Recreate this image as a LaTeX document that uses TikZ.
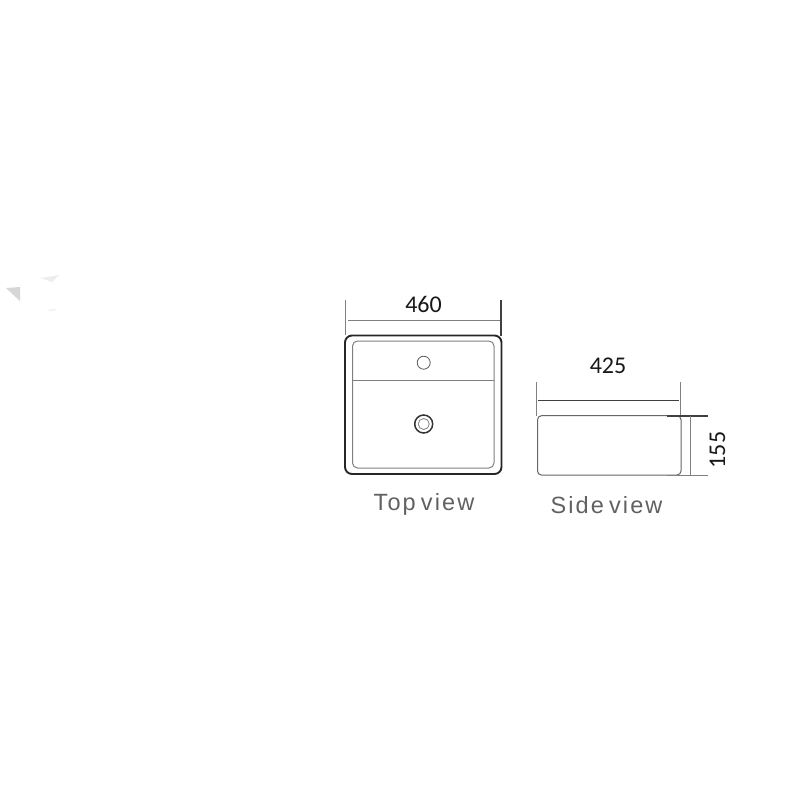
\documentclass[tikz,border=0pt]{standalone}
\usepackage{fontspec}
\setmainfont{Carlito}
\newfontfamily\viewfont[LetterSpace=9,WordSpace=0.6]{Liberation Sans}
\definecolor{smudge}{gray}{0.84}
\definecolor{smudgeb}{gray}{0.93}
\tikzset{
  x=1pt,y=-1pt,
  outline/.style={draw=black!85,line width=1.9pt,rounded corners=7pt},
  inner/.style={draw=black!50,line width=1pt},
  dimthin/.style={draw=black!50,line width=0.9pt},
  dimthick/.style={draw=black!75,line width=1.3pt},
  dimtext/.style={text=black!90,font=\fontsize{24}{26}\selectfont,inner sep=0pt},
  viewtext/.style={text=black!62,font=\viewfont\fontsize{23.5}{26}\selectfont,inner sep=0pt},
}
\begin{document}
\begin{tikzpicture}
\useasboundingbox[fill=white] (0,0) rectangle (800,800);
% faint smudges at the left
\fill[smudge] (6,288) -- (20,287) -- (20,301) -- cycle;
\fill[smudgeb] (41,278) -- (59,275) -- (52,282) -- cycle;
\fill[smudgeb] (47,310) -- (57,309) -- (52,311) -- cycle;
% top view
\coordinate (tvTL) at (345,335.5);
\coordinate (tvBR) at (501.5,474);
\coordinate (inTL) at (352.5,341);
\coordinate (inBR) at (494,468);
\coordinate (shelfL) at (352.5,380);
\coordinate (shelfR) at (494,380);
\draw[outline] (tvTL) rectangle (tvBR);
\draw[inner,rounded corners=5pt] (inTL) rectangle (inBR);
\draw[inner] (shelfL) -- (shelfR);
\node[circle,draw=black!65,line width=0.8pt,minimum size=13pt,inner sep=0pt] (tap) at (423.7,362.7) {};
\node[circle,draw=black!80,line width=1.5pt,minimum size=18pt,inner sep=0pt] (drain) at (423.7,424) {};
\node[circle,draw=black!50,line width=0.8pt,minimum size=11pt,inner sep=0pt] (drainin) at (423.7,424) {};
% top view dimension
\coordinate (a1) at (345.7,300);
\coordinate (a2) at (345.7,335);
\coordinate (b1) at (501,300);
\coordinate (b2) at (501,336);
\coordinate (c1) at (348,320);
\coordinate (c2) at (500,320);
\draw[dimthin] (a1) -- (a2);
\draw[dimthick] (b1) -- (b2);
\draw[dimthin] (c1) -- (c2);
\node[dimtext] (w460) at (423.5,304.5) {460};
\node[viewtext] (topv) at (424,504.5) {Top view};
% side view
\coordinate (sTL) at (537.5,415.7);
\coordinate (sBR) at (681,475);
\draw[inner,draw=black!60,rounded corners=4pt] (sTL) rectangle (sBR);
\coordinate (d1) at (536.7,382);
\coordinate (d2) at (536.7,416);
\coordinate (e1) at (680.7,382);
\coordinate (e2) at (680.7,418);
\coordinate (f1) at (537.7,400.3);
\coordinate (f2) at (679,400.3);
\draw[dimthin] (d1) -- (d2);
\draw[dimthin] (e1) -- (e2);
\draw[dimthick,line width=1.6pt] (f1) -- (f2);
\coordinate (g1) at (667,416);
\coordinate (g2) at (707.5,416);
\coordinate (h1) at (667,475);
\coordinate (h2) at (707.5,475);
\coordinate (i1) at (690,416);
\coordinate (i2) at (690,475);
\draw[dimthick,line width=1.6pt] (g1) -- (g2);
\draw[dimthin] (h1) -- (h2);
\draw[dimthin] (i1) -- (i2);
\node[dimtext] (w425) at (608,366) {425};
\node[dimtext,rotate=90] (h155) at (717.5,450) {155};
\node[viewtext] (sidev) at (606.5,505) {Side view};
\end{tikzpicture}
\end{document}
